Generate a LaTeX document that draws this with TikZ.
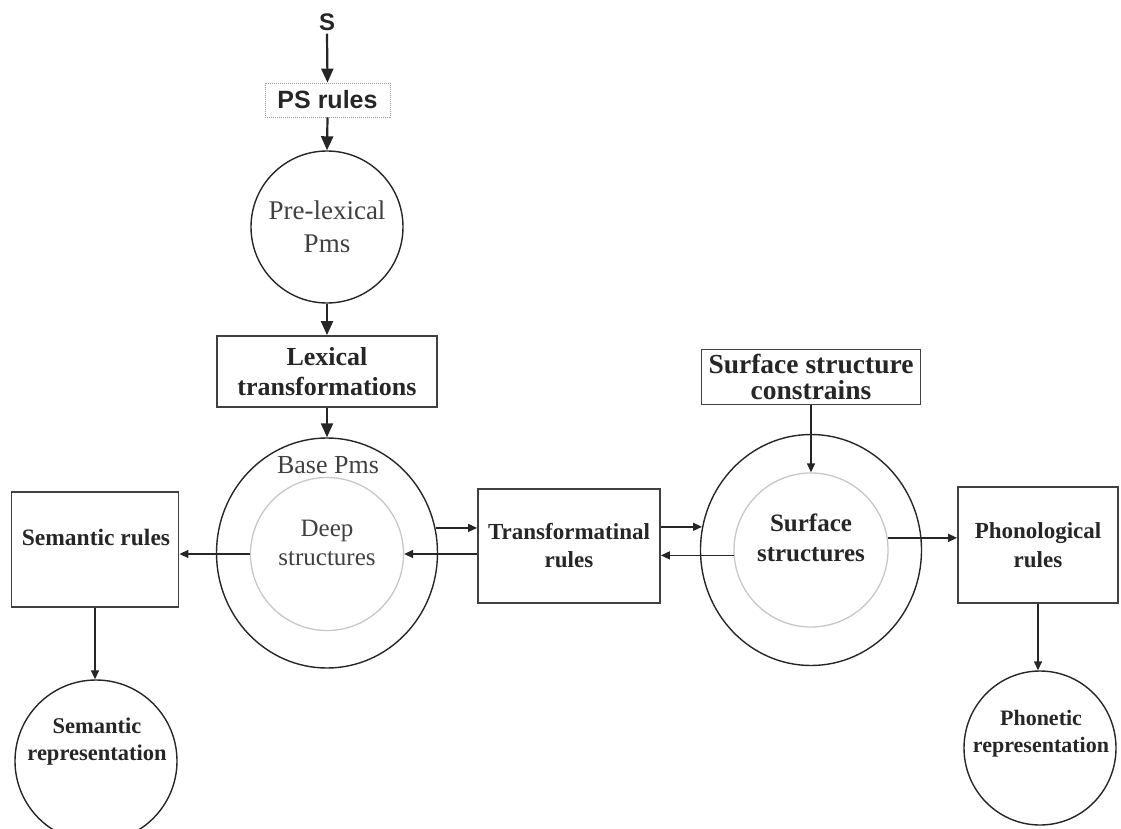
\documentclass[tikz,border=0pt]{standalone}
\usepackage{fontspec}
\setmainfont{Liberation Serif}
\newfontfamily\arialf{Liberation Sans}
\usetikzlibrary{shapes.geometric,arrows.meta}
\begin{document}
\begin{tikzpicture}[x=1pt,y=-1pt,
  boxn/.style={draw=black!75,line width=1.8pt,inner sep=0pt,align=center,text=black!85},
  ring/.style={draw=black!85,line width=1.4pt,ellipse,inner sep=0pt},
  innerring/.style={draw=black!22,line width=1.3pt,circle,inner sep=0pt},
  btxt/.style={align=center,inner sep=0pt,text=black!85,font=\bfseries},
  rtxt/.style={align=center,inner sep=0pt,text=black!75},
  thinarr/.style={-{Triangle[length=9pt,width=8pt]},line width=1.4pt,draw=black!85},
  thickarr/.style={-{Triangle[length=14pt,width=12pt]},line width=2.2pt,draw=black!85}
]
\useasboundingbox (0,0) rectangle (1121,829);

% top chain
\node[btxt,font=\arialf\bfseries\fontsize{24}{28}\selectfont] (snode) at (327,22) {S};
\node[draw=black!40,dash pattern=on 1pt off 1pt,line width=0.8pt,minimum width=125pt,minimum height=34pt,inner sep=0pt,text=black!85,font=\arialf\bfseries\fontsize{25}{28}\selectfont] (ps) at (327.5,100) {PS rules};
\node[ring,circle,minimum size=152pt,rtxt,font=\fontsize{27}{33}\selectfont] (prelex) at (327,227) {Pre-lexical\\Pms};
\node[boxn,minimum width=220pt,minimum height=71pt,font=\bfseries\fontsize{26}{30}\selectfont] (lex) at (327,371.5) {Lexical\\transformations};

% base / deep
\node[ring,minimum width=221pt,minimum height=230pt] (base) at (327,553) {};
\node[innerring,minimum size=153pt] (deepin) at (327,554) {};
\node[rtxt,font=\fontsize{26}{30}\selectfont] (basetxt) at (328,465) {Base Pms};
\node[rtxt,font=\fontsize{25}{29}\selectfont] (deeptxt) at (327,542.5) {Deep\\structures};

% semantic
\node[boxn,minimum width=167pt,minimum height=115pt] (semr) at (95,549.5) {};
\node[btxt,font=\bfseries\fontsize{23.5}{28}\selectfont] (semrtxt) at (96,537) {Semantic rules};
\node[ring,circle,minimum size=162pt] (semrep) at (96,761) {};
\node[btxt,font=\bfseries\fontsize{22.5}{27}\selectfont] (semreptxt) at (97,741.5) {Semantic\\representation};

% transformational
\node[boxn,minimum width=182pt,minimum height=114pt,font=\bfseries\fontsize{23}{28}\selectfont] (trans) at (569,546) {Transformatinal\\rules};

% surface
\node[ring,minimum width=221pt,minimum height=231pt] (surf) at (811,550) {};
\node[innerring,minimum size=154pt] (surfin) at (811,550) {};
\node[btxt,font=\bfseries\fontsize{25}{30}\selectfont] (surftxt) at (811,538) {Surface\\structures};
\node[boxn,minimum width=219pt,minimum height=55pt,font=\bfseries\fontsize{27.5}{26}\selectfont] (cons) at (811,377) {Surface structure\\constrains};

% phonological
\node[boxn,minimum width=160pt,minimum height=116pt,font=\bfseries\fontsize{23}{29}\selectfont] (phon) at (1038,545) {Phonological\\rules};
\node[ring,minimum width=152pt,minimum height=154pt] (phonrep) at (1040,748) {};
\node[btxt,font=\bfseries\fontsize{22}{27}\selectfont] (phonreptxt) at (1041,733.5) {Phonetic\\representation};

% thick arrows
\draw[thickarr] ([yshift=-3pt]snode.south) -- (ps.north);
\draw[thickarr] (ps.south) -- (prelex.north);
\draw[thickarr] (prelex.south) -- (lex.north);
\draw[thickarr] (lex.south) -- (base.north);

% thin arrows
\draw[thinarr] (cons.south) -- (surfin.north);
\draw[thinarr] (deepin.west) -- (deepin.west -| semr.east);
\draw[thinarr] (trans.west |- deepin.east) -- (deepin.east);
\draw[thinarr] (base.13) -- (base.13 -| trans.west);
\draw[thinarr] (trans.east |- surf.168) -- (surf.168);
\draw[thinarr] (surfin.184) -- (surfin.184 -| trans.east);
\draw[thinarr] (surfin.9) -- (surfin.9 -| phon.west);
\draw[thinarr] (semr.south) -- (semr.south |- semrep.north);
\draw[thinarr] (phon.south) -- (phon.south |- phonrep.north);
\end{tikzpicture}
\end{document}
